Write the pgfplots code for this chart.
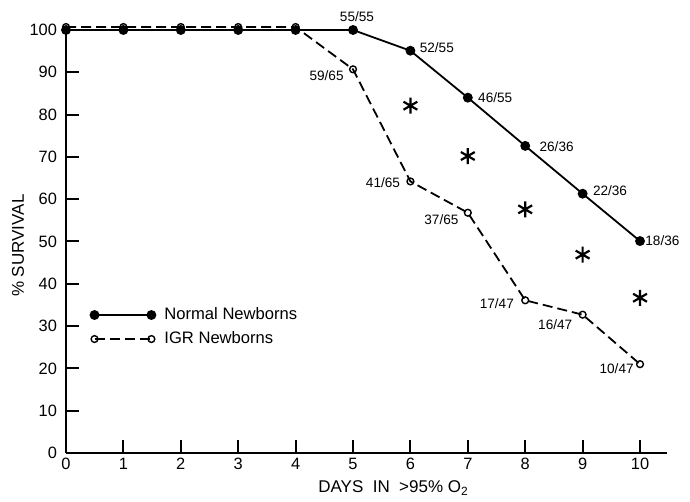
\documentclass[border=0pt]{standalone}
\usepackage{fontspec}
\setmainfont{Liberation Sans}
\usepackage{pgfplots}
\pgfplotsset{compat=1.18}
\usepackage{pgfplotstable}

\pgfplotstableread{
x y
0 100
1 100
2 100
3 100
4 100
5 100
6 95.1
7 84.0
8 72.6
9 61.3
10 50.1
}\normaldata

\pgfplotstableread{
x y
0 100.7
1 100.7
2 100.7
3 100.7
4 100.7
5 90.7
6 64.2
7 56.8
8 36.1
9 32.7
10 21.0
}\igrdata

\pgfplotstableread{
x y
6 82.1
7 70.2
8 57.6
9 46.9
10 36.7
}\stardata

% label: x, y, text, anchor, xshift, yshift
\newcommand\lab[6]{%
\addplot[draw=none, mark=none, forget plot, point meta=explicit symbolic,
  nodes near coords,
  every node near coord/.append style={anchor=#4, xshift=#5pt, yshift=#6pt,
    inner sep=0pt, font=\fontsize{6.8}{8}\selectfont, black}]
  coordinates {(#1,#2) [#3]};}

\begin{document}
\begin{tikzpicture}
\begin{axis}[
  scale only axis,
  width=300.5pt, height=211.5pt,
  xmin=0, xmax=10.47, ymin=0, ymax=100,
  axis x line=bottom, axis y line=left,
  axis line style={line width=1.1pt, -},
  xtick={0,...,10}, ytick={0,10,...,100},
  tick align=inside,
  major tick length=6.5pt,
  tick style={line width=1pt, black},
  /pgf/number format/assume math mode=true,
  ticklabel style={font=\fontsize{8.2}{10}\selectfont},
  yticklabel style={xshift=-1pt},
  xticklabel style={yshift=1pt},
  xlabel={DAYS\ \ IN\ \ >95\% O\textsubscript{2}},
  ylabel={\% SURVIVAL},
  label style={font=\fontsize{8.5}{10}\selectfont},
  xlabel style={at={(axis description cs:0.545,0)}, anchor=center, yshift=-17.5pt},
  ylabel style={at={(axis description cs:-0.08,0.49)}, anchor=center},
  clip=false,
  legend style={at={(axis cs:0.42,35.2)}, anchor=north west, draw=none, fill=none,
    inner sep=0pt, row sep=1.5pt, font=\fontsize{8.3}{10}\selectfont,
    nodes={inner sep=1.5pt},
    /tikz/every odd column/.append style={column sep=3pt}},
  legend cell align=left,
  legend image code/.code={\draw[mark repeat=1,#1] plot coordinates {(0cm,0cm)(1cm,0cm)};},
]
\addplot[black, line width=0.9pt, mark=*, mark size=2pt, mark options={solid, fill=black}]
  table[x=x,y=y]{\normaldata};
\addlegendentry{Normal Newborns}
\addplot[black, line width=0.9pt, dash pattern=on 5pt off 2.5pt, mark=o, mark size=1.7pt, mark options={solid, fill=white, line width=0.7pt}]
  table[x=x,y=y]{\igrdata};
\addlegendentry{IGR Newborns}
\lab{5}{100}{55/55}{south}{2}{4}
\lab{6}{95.1}{52/55}{west}{4.5}{1.3}
\lab{7}{84.0}{46/55}{west}{5}{0}
\lab{8}{72.6}{26/36}{west}{7}{-0.5}
\lab{9}{61.3}{22/36}{west}{5}{1.6}
\lab{10}{50.1}{18/36}{west}{2.5}{0}
\lab{5}{90.7}{59/65}{east}{-4.5}{-3.2}
\lab{6}{64.2}{41/65}{east}{-5}{-0.6}
\lab{7}{56.8}{37/65}{east}{-4.5}{-3.3}
\lab{8}{36.1}{17/47}{east}{-5.5}{-1.7}
\lab{9}{32.7}{16/47}{east}{-5}{-5}
\lab{10}{21.0}{10/47}{east}{-3}{-2.4}
\addplot[only marks, forget plot, mark=asterisk, mark size=4pt, mark options={line width=1.1pt, black}]
  table[x=x,y=y]{\stardata};
\end{axis}
\path (current axis.south west) +(-33pt,-22pt) (current axis.north east) +(11.5pt,15pt);
\end{tikzpicture}
\end{document}
